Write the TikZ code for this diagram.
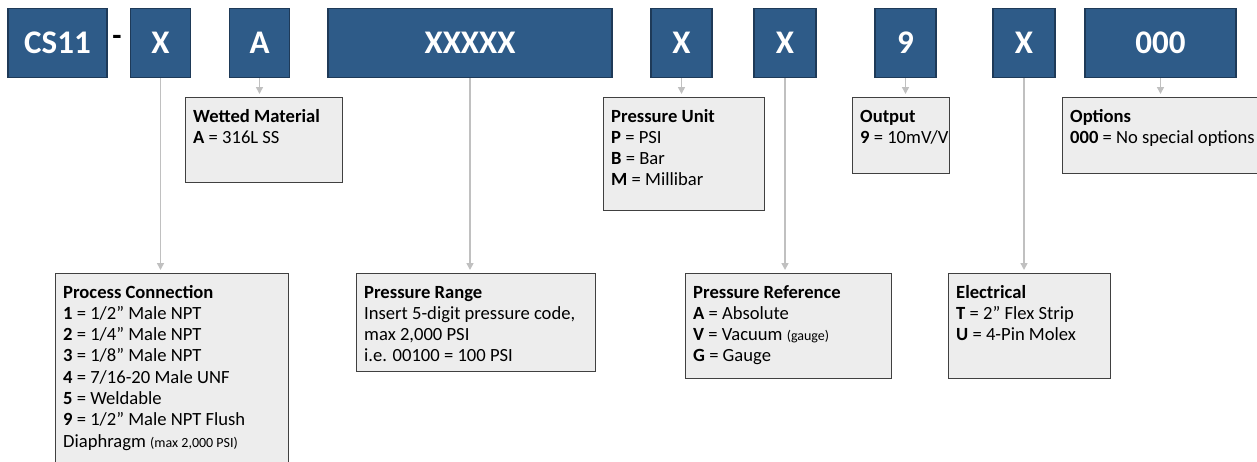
\documentclass[tikz,border=0pt]{standalone}
\usepackage{fontspec}
\setmainfont{Carlito}
\usetikzlibrary{arrows.meta}

\definecolor{codeblue}{HTML}{2E5B88}
\definecolor{codeline}{HTML}{1E3A58}
\definecolor{infofill}{HTML}{EDEDED}
\definecolor{infoline}{HTML}{404040}
\definecolor{linkgray}{HTML}{C0C0C0}

\newcommand{\infolines}[1]{\parbox[t]{250pt}{\raggedright #1}}
\newcommand{\smallnote}[1]{{\fontsize{14}{14}\selectfont #1}}

\tikzset{
  codebox/.style={draw=codeline, line width=1.2pt, fill=codeblue, text=white,
    anchor=north, minimum height=69pt, inner sep=0pt,
    font=\bfseries\fontsize{33}{33}\selectfont},
  infobox/.style={draw=infoline, line width=1pt, fill=infofill,
    anchor=north west, inner sep=0pt},
  infotext/.style={anchor=base west, inner sep=0pt,
    font=\fontsize{18.6}{21.3}\selectfont},
  codelink/.style={draw=linkgray, line width=1.5pt,
    -{Triangle[length=7pt,width=7pt]}, shorten >=3pt}
}

\begin{document}
\begin{tikzpicture}[x=1pt,y=-1pt]
  \useasboundingbox (0,0) rectangle (1257,461);

  % part number
  \node[codebox, minimum width=99pt] (1) at (57.5,8) {CS11};
  \node[font=\bfseries\fontsize{30}{30}\selectfont, inner sep=0pt] (dash) at (117,40) {-};
  \node[codebox, minimum width=60pt] (2) at (160.5,8) {X};
  \node[codebox, minimum width=60pt] (3) at (259.5,8) {A};
  \node[codebox, minimum width=284pt] (4) at (470,8) {XXXXX};
  \node[codebox, minimum width=61pt] (5) at (681.5,8) {X};
  \node[codebox, minimum width=62pt] (6) at (785,8) {X};
  \node[codebox, minimum width=61pt] (7) at (905.5,8) {9};
  \node[codebox, minimum width=62pt] (8) at (1024,8) {X};
  \node[codebox, minimum width=151pt] (9) at (1160.5,8) {000};

  % upper row
  \node[infobox, minimum width=157pt, minimum height=85pt] (3d) at (185,97) {};
  \node[infotext] at ([xshift=8pt,yshift=-25pt]3d.north west)
    {\infolines{\textbf{Wetted Material}\\\textbf{A} = 316L SS}};

  \node[infobox, minimum width=161pt, minimum height=113pt] (5d) at (603,97) {};
  \node[infotext] at ([xshift=8pt,yshift=-25pt]5d.north west)
    {\infolines{\textbf{Pressure Unit}\\\textbf{P} = PSI\\\textbf{B} = Bar\\\textbf{M} = Millibar}};

  \node[infobox, minimum width=97pt, minimum height=76pt] (7d) at (852,97) {};
  \node[infotext] at ([xshift=8pt,yshift=-25pt]7d.north west)
    {\infolines{\textbf{Output}\\\textbf{9} = 10mV/V}};

  \node[infobox, minimum width=210pt, minimum height=76pt] (9d) at (1062,97) {};
  \node[infotext] at ([xshift=8pt,yshift=-25pt]9d.north west)
    {\infolines{\textbf{Options}\\\textbf{000} = No special options}};

  % lower row
  \node[infobox, minimum width=233pt, minimum height=200pt] (2d) at (55,273) {};
  \node[infotext] at ([xshift=8pt,yshift=-25pt]2d.north west)
    {\infolines{\textbf{Process Connection}\\
      \textbf{1} = 1/2” Male NPT\\
      \textbf{2} = 1/4” Male NPT\\
      \textbf{3} = 1/8” Male NPT\\
      \textbf{4} = 7/16-20 Male UNF\\
      \textbf{5} = Weldable\\
      \textbf{9} = 1/2” Male NPT Flush\\
      Diaphragm \smallnote{(max 2,000 PSI)}}};

  \node[infobox, minimum width=239pt, minimum height=98pt] (4d) at (356,273) {};
  \node[infotext] at ([xshift=8pt,yshift=-25pt]4d.north west)
    {\infolines{\textbf{Pressure Range}\\
      Insert 5-digit pressure code,\\
      max 2,000 PSI\\
      i.e. 00100 = 100 PSI}};

  \node[infobox, minimum width=206pt, minimum height=105pt] (6d) at (685,273) {};
  \node[infotext] at ([xshift=8pt,yshift=-25pt]6d.north west)
    {\infolines{\textbf{Pressure Reference}\\
      \textbf{A} = Absolute\\
      \textbf{V} = Vacuum \smallnote{(gauge)}\\
      \textbf{G} = Gauge}};

  \node[infobox, minimum width=162pt, minimum height=105pt] (8d) at (948,273) {};
  \node[infotext] at ([xshift=8pt,yshift=-25pt]8d.north west)
    {\infolines{\textbf{Electrical}\\
      \textbf{T} = 2” Flex Strip\\
      \textbf{U} = 4-Pin Molex}};

  % links
  \draw[codelink] (2.south) -- (2.south |- 2d.north);
  \draw[codelink] (3.south) -- (3.south |- 3d.north);
  \draw[codelink] (4.south) -- (4.south |- 4d.north);
  \draw[codelink] (5.south) -- (5.south |- 5d.north);
  \draw[codelink] (6.south) -- (6.south |- 6d.north);
  \draw[codelink] (7.south) -- (7.south |- 7d.north);
  \draw[codelink] (8.south) -- (8.south |- 8d.north);
  \draw[codelink] (9.south) -- (9.south |- 9d.north);
\end{tikzpicture}
\end{document}
